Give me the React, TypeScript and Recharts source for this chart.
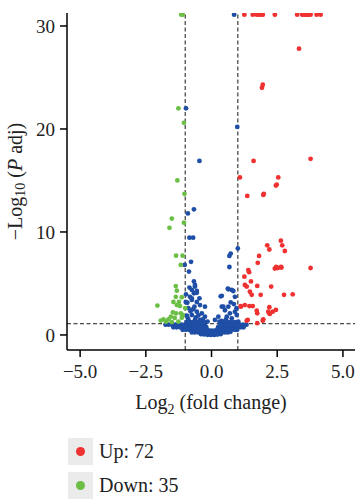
import { ScatterChart, Scatter, XAxis, YAxis, ReferenceLine, Label } from 'recharts'

type Pt = [number, number]

// significant, up-regulated (red)
const upPoints: Pt[] = [
    [1.25, 31.1], [1.57, 31.1], [1.72, 31.1], [1.81, 31.1], [1.91, 31.1], [1.95, 31.1], [2.41, 31.1],
    [3.26, 31.1], [3.45, 31.1], [3.52, 31.1], [3.58, 31.1], [3.64, 31.1], [3.7, 31.1], [3.77, 31.1],
    [4.0, 31.1], [4.15, 31.1], [3.33, 27.8], [1.95, 24.3], [1.92, 24.0], [3.77, 17.1], [1.6, 16.9],
    [1.08, 15.3], [2.54, 15.3], [2.45, 14.5], [2.48, 14.6], [1.36, 13.5], [1.97, 13.6], [1.99, 13.7],
    [2.12, 8.7], [2.2, 8.3], [2.64, 9.15], [2.69, 8.7], [2.79, 8.15], [1.81, 7.67], [1.76, 7.0],
    [2.41, 6.45], [2.46, 6.6], [2.52, 6.5], [2.64, 6.6], [2.66, 6.55], [3.77, 6.5], [1.43, 6.1],
    [1.4, 6.3], [1.25, 5.66], [1.5, 5.2], [1.27, 4.85], [1.34, 4.7], [1.74, 4.76], [2.27, 4.7],
    [1.46, 4.2], [1.53, 3.9], [1.87, 3.9], [2.76, 3.9], [3.09, 3.95], [1.11, 2.8], [1.44, 2.8],
    [1.57, 2.8], [1.27, 2.9], [1.72, 2.36], [1.74, 2.1], [2.2, 2.69], [2.16, 2.26], [2.22, 2.04],
    [2.2, 2.1], [2.33, 2.26], [2.45, 2.43], [1.97, 1.52], [1.34, 1.39], [1.38, 1.46], [1.74, 1.14],
    [1.95, 1.39], [1.12, 2.75],
]

// significant, down-regulated (green)
const downPoints: Pt[] = [
    [-1.15, 31.1], [-1.1, 31.1], [-1.26, 22.0], [-1.05, 20.6], [-1.3, 15.0], [-1.03, 13.7],
    [-1.51, 11.3], [-1.6, 10.4], [-1.05, 10.9], [-1.35, 7.7], [-1.1, 7.7], [-1.17, 6.8],
    [-1.36, 4.75], [-1.32, 4.3], [-1.36, 3.7], [-1.13, 3.66], [-2.06, 2.85], [-1.45, 3.2],
    [-1.24, 3.2], [-1.2, 2.8], [-1.32, 2.9], [-1.47, 2.2], [-1.35, 2.1], [-1.17, 2.1],
    [-1.0, 2.6], [-1.55, 1.78], [-1.1, 1.94], [-1.83, 1.52], [-1.64, 1.52], [-1.93, 1.4],
    [-1.73, 1.29], [-1.51, 1.25], [-1.26, 1.3], [-1.13, 1.68], [-1.4, 1.65],
]

// not significant (blue)
const nsPoints: Pt[] = [
    [0.86, 31.1], [-0.97, 22.0], [0.98, 20.2], [-0.46, 16.9], [-0.67, 12.2], [-0.9, 11.8],
    [-0.84, 9.45], [-0.7, 9.45], [1.0, 8.4], [0.73, 7.9], [0.68, 7.67], [-0.78, 7.1], [-1.02, 6.8],
    [0.68, 6.6], [-0.86, 6.15], [-0.67, 5.2], [-0.63, 4.85], [-0.84, 4.6], [-0.63, 4.7], [-0.75, 4.37],
    [-0.56, 4.27], [-0.97, 3.95], [-0.67, 4.05], [-0.56, 4.1], [-0.82, 3.7], [-0.75, 3.56], [-0.46, 3.56],
    [-0.92, 3.13], [-0.98, 3.2], [-0.75, 3.4], [-0.56, 3.2], [-0.44, 2.9], [-0.25, 2.75], [-0.65, 2.75],
    [-0.88, 2.6], [-0.56, 2.26], [-0.37, 2.1], [-0.75, 1.94], [-0.94, 1.87], [-0.25, 1.78], [-0.63, 1.46],
    [-0.88, 1.46], [-0.44, 1.46], [-0.8, 2.3], [-0.5, 1.9], [-0.7, 2.5], [-0.33, 1.5], [-0.6, 1.7],
    [-0.9, 1.6], [0.64, 4.44], [0.77, 4.37], [0.83, 4.27], [0.62, 4.5], [0.39, 3.8], [0.89, 3.7],
    [0.35, 3.75], [0.73, 3.17], [0.45, 2.75], [0.39, 2.75], [0.64, 2.75], [0.51, 2.4], [0.89, 2.26],
    [0.96, 1.94], [0.26, 1.78], [0.58, 1.78], [0.77, 1.62], [0.39, 1.36], [0.13, 1.46], [1.02, 1.29],
    [0.85, 3.0], [0.7, 2.1], [0.55, 1.5], [0.95, 2.6], [0.3, 1.3], [-0.15, 1.3],
    [-0.95, 1.25], [-0.8, 1.25], [-0.68, 1.25], [-0.52, 1.25], [-0.4, 1.25], [-0.28, 1.25],
    [0.35, 1.25], [0.48, 1.25], [0.6, 1.25], [0.72, 1.25], [0.85, 1.25], [0.97, 1.25],
    [-1.75, 1.0], [-1.63, 1.0], [-1.5, 1.0], [-1.38, 1.0], [-1.25, 1.0], [-1.13, 1.0], [-1.0, 1.0],
    [-0.88, 1.0], [-0.75, 1.0], [-0.63, 1.0], [-0.5, 1.0], [-0.38, 1.0], [-0.26, 1.0], [0.32, 1.0],
    [0.45, 1.0], [0.57, 1.0], [0.7, 1.0], [0.82, 1.0], [0.95, 1.0], [1.07, 1.0], [1.2, 1.0], [1.33, 1.0],
    [-1.45, 0.75], [-1.33, 0.75], [-1.2, 0.75], [-1.08, 0.75], [-0.95, 0.75], [-0.83, 0.75],
    [-0.7, 0.75], [-0.58, 0.75], [-0.45, 0.75], [-0.33, 0.75], [-0.2, 0.75], [0.25, 0.75],
    [0.37, 0.75], [0.5, 0.75], [0.62, 0.75], [0.75, 0.75], [0.87, 0.75], [1.0, 0.75], [1.12, 0.75],
    [1.22, 0.75], [-1.1, 0.5], [-0.98, 0.5], [-0.85, 0.5], [-0.73, 0.5], [-0.6, 0.5], [-0.48, 0.5],
    [-0.35, 0.5], [-0.23, 0.5], [-0.1, 0.45], [0.02, 0.42], [0.15, 0.45], [0.28, 0.5], [0.4, 0.5],
    [0.53, 0.5], [0.65, 0.5], [0.78, 0.5], [0.9, 0.5], [0.98, 0.5], [-0.75, 0.25], [-0.63, 0.25],
    [-0.5, 0.25], [-0.38, 0.25], [-0.25, 0.25], [-0.13, 0.25], [0.0, 0.25], [0.12, 0.25], [0.25, 0.25],
    [0.37, 0.25], [0.5, 0.25], [0.62, 0.25], [0.72, 0.3], [-0.4, 0.08], [-0.28, 0.05], [-0.15, 0.02],
    [-0.03, 0.0], [0.1, 0.0], [0.22, 0.04], [0.35, 0.08],
]

const xTicks = [-5, -2.5, 0, 2.5, 5]
const yTicks = [0, 10, 20, 30]
const legendItems = [
    { label: 'Up: 72', color: '#ef3131' },
    { label: 'Down: 35', color: '#6cbf46' },
]

const toRows = (pts: Pt[]) => pts.map(([x, y]) => ({ x, y }))

const FONT = '"Liberation Serif", "DejaVu Serif", serif'
const dashColor = '#4a4a4a'

const dot = (fill: string) => (props: any) => (
    <circle cx={props.cx} cy={props.cy} r={2.4} fill={fill} />
)

const YTitle = ({ viewBox }: any) => {
    const cx = viewBox.x + 15
    const cy = viewBox.y + viewBox.height / 2
    return (
        <text
            x={cx}
            y={cy}
            transform={`rotate(-90 ${cx} ${cy})`}
            textAnchor="middle"
            dominantBaseline="central"
            fontFamily={FONT}
            fontSize={20}
            fill="#222"
        >
            <tspan>−Log</tspan>
            <tspan fontSize={14} dy={5}>10</tspan>
            <tspan dy={-5}> (</tspan>
            <tspan fontStyle="italic">P</tspan>
            <tspan> adj)</tspan>
        </text>
    )
}

const XTitle = ({ viewBox }: any) => {
    const cx = viewBox.x + viewBox.width / 2
    return (
        <text x={cx} y={viewBox.y + 59} textAnchor="middle" fontFamily={FONT} fontSize={20} fill="#222">
            <tspan>Log</tspan>
            <tspan fontSize={14} dy={5}>2</tspan>
            <tspan dy={-5}> (fold change)</tspan>
        </text>
    )
}

export default function App() {
    const tick = { fontFamily: FONT, fontSize: 19, fill: '#222' }
    return (
        <div style={{ position: 'absolute', left: 0, top: 0, width: 358, height: 500, background: '#fff' }}>
            <ScatterChart width={358} height={500} margin={{ top: 13, right: 3, bottom: 80, left: 0 }}>
                <XAxis
                    type="number"
                    dataKey="x"
                    domain={[-5.5, 5.46]}
                    ticks={xTicks}
                    tickFormatter={(v: number) => v.toFixed(1).replace('-', '−')}
                    tick={tick}
                    stroke="#000"
                    strokeWidth={1.5}
                    tickSize={7}
                    tickMargin={8}
                    height={70}
                    allowDataOverflow
                >
                    <Label content={<XTitle />} />
                </XAxis>
                <YAxis
                    type="number"
                    dataKey="y"
                    domain={[-1.46, 31.26]}
                    ticks={yTicks}
                    tick={tick}
                    stroke="#000"
                    strokeWidth={1.5}
                    tickSize={7}
                    tickMargin={5}
                    width={67}
                    allowDataOverflow
                >
                    <Label content={<YTitle />} />
                </YAxis>
                <ReferenceLine x={-1} stroke={dashColor} strokeWidth={1.3} strokeDasharray="4 2.5" />
                <ReferenceLine x={1} stroke={dashColor} strokeWidth={1.3} strokeDasharray="4 2.5" />
                <ReferenceLine y={1.1} stroke={dashColor} strokeWidth={1.3} strokeDasharray="4 2.5" />
                <Scatter data={toRows(nsPoints)} shape={dot('#1f4ea6')} isAnimationActive={false} />
                <Scatter data={toRows(downPoints)} shape={dot('#6cbf46')} isAnimationActive={false} />
                <Scatter data={toRows(upPoints)} shape={dot('#ef3131')} isAnimationActive={false} />
            </ScatterChart>
            <div style={{ position: 'absolute', left: 68, top: 438, fontFamily: FONT, fontSize: 20, color: '#222' }}>
                {legendItems.map((item) => (
                    <div key={item.label} style={{ display: 'flex', alignItems: 'center', height: 27, marginBottom: 7 }}>
                        <div
                            style={{
                                width: 25,
                                height: 27,
                                background: '#ebebeb',
                                display: 'flex',
                                alignItems: 'center',
                                justifyContent: 'center',
                            }}
                        >
                            <div style={{ width: 9, height: 9, borderRadius: '50%', background: item.color }} />
                        </div>
                        <span style={{ marginLeft: 6 }}>{item.label}</span>
                    </div>
                ))}
            </div>
        </div>
    )
}
